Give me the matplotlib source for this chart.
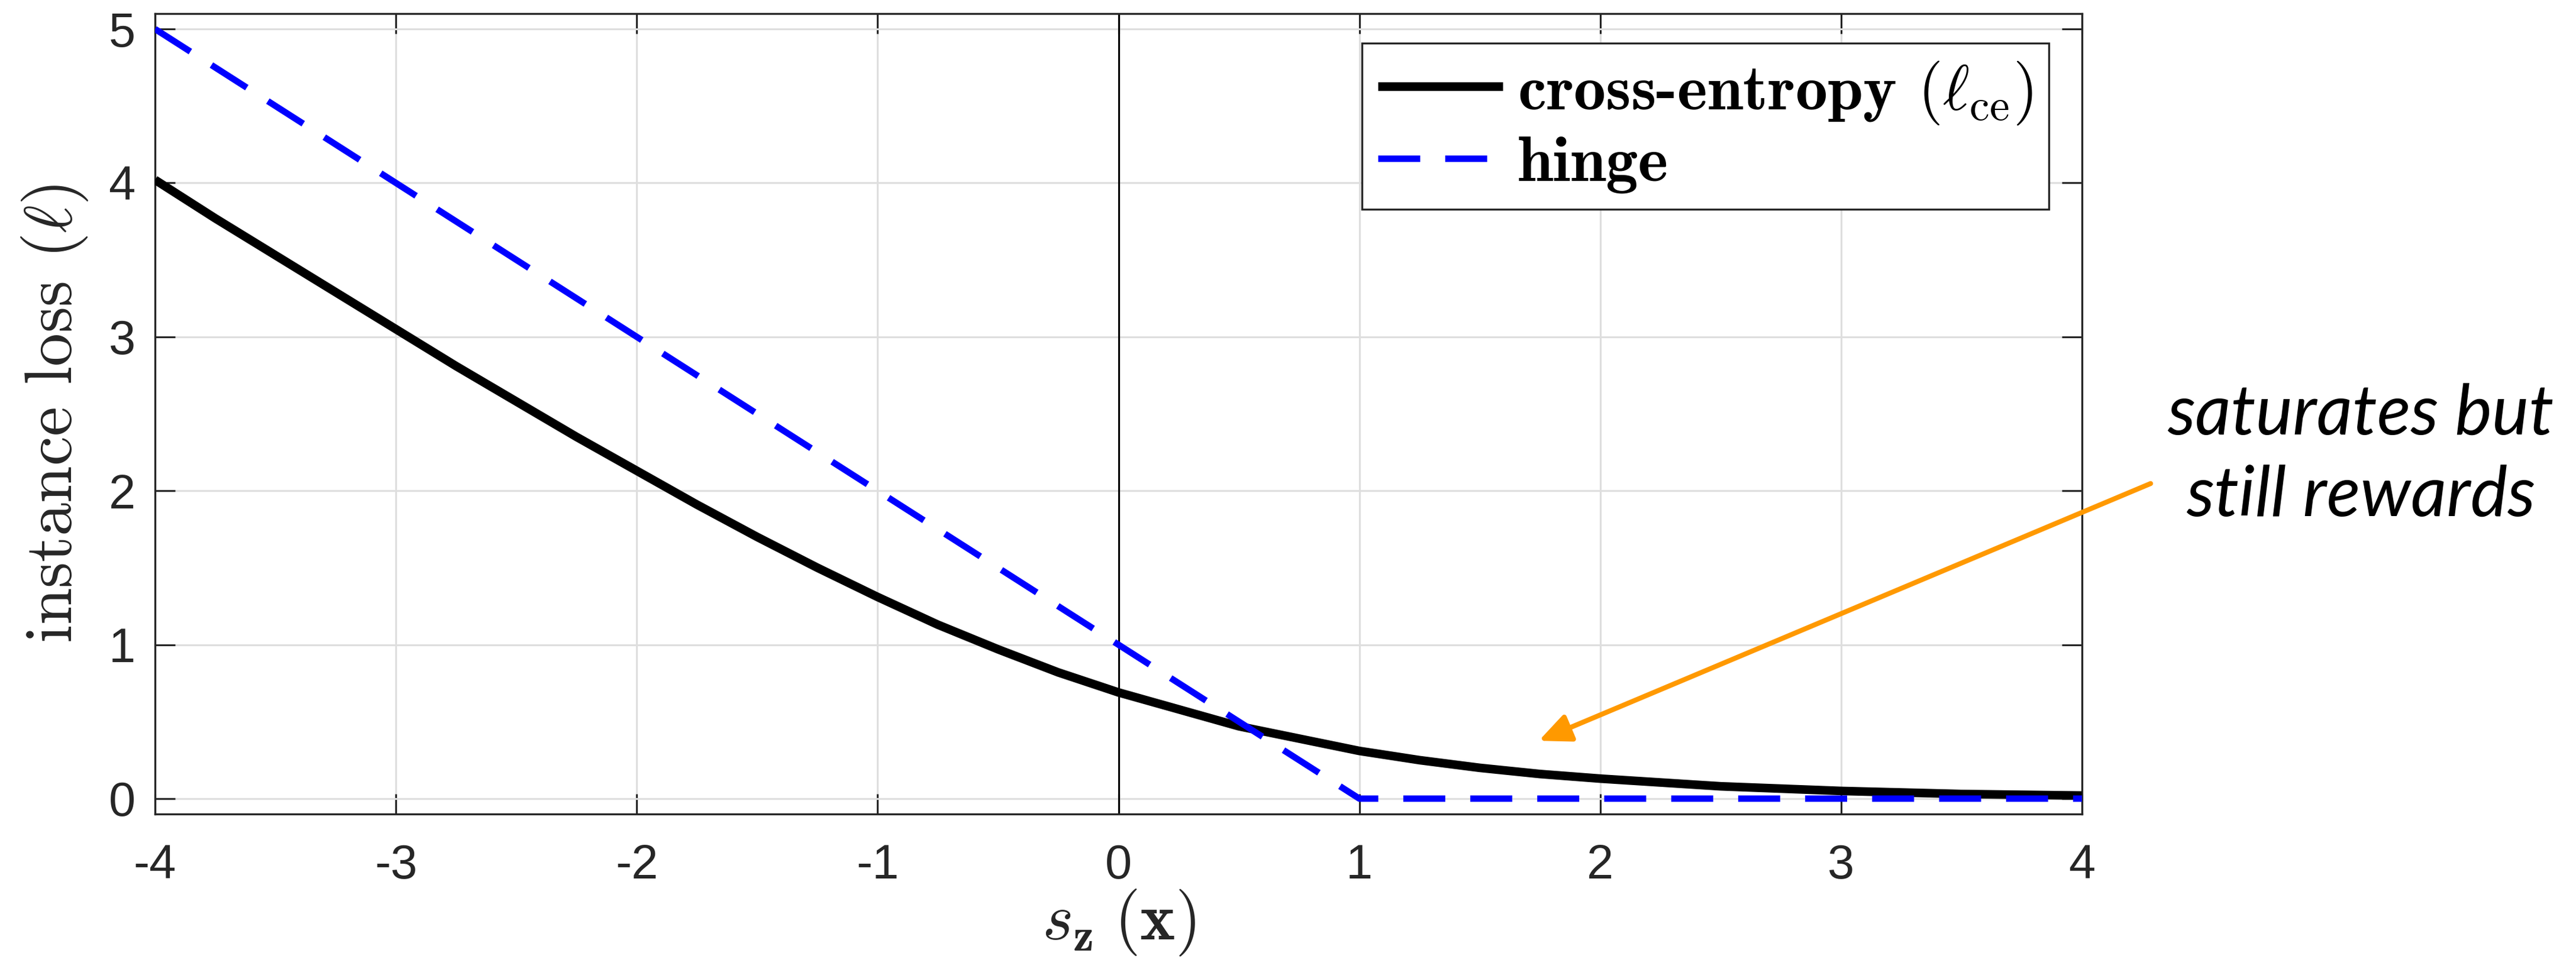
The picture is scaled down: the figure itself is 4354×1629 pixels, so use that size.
import matplotlib
matplotlib.use('Agg')
import matplotlib.pyplot as plt
from matplotlib.ticker import FixedLocator, FixedFormatter

# ---------------- data ----------------
score_x = [-4, -3.75, -3.5, -3.25, -3, -2.75, -2.5, -2.25, -2, -1.75, -1.5, -1.25,
           -1, -0.75, -0.5, -0.25, 0, 0.25, 0.5, 0.75, 1, 1.25, 1.5, 1.75, 2,
           2.5, 3, 3.5, 4]
ce_loss = [4.02, 3.77, 3.53, 3.29, 3.05, 2.81, 2.58, 2.35, 2.13, 1.91, 1.70, 1.50,
           1.31, 1.13, 0.97, 0.82, 0.69, 0.58, 0.47, 0.39, 0.31, 0.25, 0.20, 0.16, 0.13,
           0.08, 0.05, 0.03, 0.02]
hinge_x = [-4, 1, 4]
hinge_loss = [5, 0, 0]

x_ticks = [-4, -3, -2, -1, 0, 1, 2, 3, 4]
x_tick_labels = ['-4', '-3', '-2', '-1', '0', '1', '2', '3', '4']
y_ticks = [0, 1, 2, 3, 4, 5]
y_tick_labels = ['0', '1', '2', '3', '4', '5']
series_labels = [r'cross-entropy $(\ell_{\mathrm{ce}})$', 'hinge']
x_label = r'$s_{\mathbf{z}}\;(\mathbf{x})$'
y_label = r'instance loss $(\ell)$'
annotation_lines = ['saturates but', 'still rewards']
arrow_tip = (1.745, 0.376)
arrow_tail = (4.285, 2.047)
zero_line_x = 0

# ---------------- figure ----------------
plt.rcParams['mathtext.fontset'] = 'cm'
W, H, DPI = 4354, 1629, 300
fig = plt.figure(figsize=(W / DPI, H / DPI), dpi=DPI)
ax = fig.add_axes([262 / W, 1 - 1377 / H, (3519 - 262) / W, (1377 - 23) / H])

spine_col = '#262626'
ax.grid(True, color='#dedede', linewidth=0.75, zorder=0)
ax.set_axisbelow(True)
ax.axvline(zero_line_x, color='black', linewidth=0.75, zorder=2)

ax.plot(score_x, ce_loss, color='black', linewidth=3.5, solid_capstyle='butt',
        solid_joinstyle='round', label=series_labels[0], zorder=3)
ax.plot(hinge_x, hinge_loss, color='#0000ff', linewidth=2.6, dashes=(6.55, 3.9),
        dash_capstyle='butt', label=series_labels[1], zorder=4)

ax.set_xlim(-4, 4)
ax.set_ylim(-0.1, 5.1)
ax.xaxis.set_major_locator(FixedLocator(x_ticks))
ax.xaxis.set_major_formatter(FixedFormatter(x_tick_labels))
ax.yaxis.set_major_locator(FixedLocator(y_ticks))
ax.yaxis.set_major_formatter(FixedFormatter(y_tick_labels))
ax.tick_params(axis='both', direction='in', length=8.2, width=0.75, color=spine_col,
               top=True, right=True, labelsize=19.5, labelcolor='#262626')
ax.tick_params(axis='x', pad=12)
ax.tick_params(axis='y', pad=8)
for lab in ax.get_xticklabels() + ax.get_yticklabels():
    lab.set_family('Liberation Sans')
for sp in ax.spines.values():
    sp.set_color(spine_col)
    sp.set_linewidth(0.8)

ax.set_xlabel(x_label, fontsize=27, color='#262626')
ax.xaxis.set_label_coords(0.5, -0.136)
ax.xaxis.label.set_verticalalignment('center')
ax.set_ylabel(y_label, fontsize=27, family='cmr10', color='#262626')
ax.yaxis.set_label_coords(-0.052, 0.5)
ax.yaxis.label.set_verticalalignment('center')

leg = ax.legend(loc='upper right', bbox_to_anchor=((3463 - 262) / (3519 - 262), (1377 - 73) / (1377 - 23)),
                borderaxespad=0, prop={'family': 'cmb10', 'size': 26}, frameon=True,
                fancybox=False, edgecolor=spine_col, framealpha=1,
                handlelength=1.94, handletextpad=0.23, borderpad=0.25, labelspacing=0.15)
leg.get_frame().set_linewidth(0.8)

ax.annotate('', xy=arrow_tip, xytext=arrow_tail, xycoords='data', textcoords='data',
            annotation_clip=False,
            arrowprops=dict(arrowstyle='-|>,head_length=0.4,head_width=0.18', mutation_scale=27,
                            color='#ff9900', lw=2.0, shrinkA=0, shrinkB=0))

fig.text(3990 / W, 1 - 735 / H, annotation_lines[0], ha='center', va='baseline',
         family='Lato', style='italic', fontsize=28.4, color='black')
fig.text(3990 / W, 1 - 873 / H, annotation_lines[1], ha='center', va='baseline',
         family='Lato', style='italic', fontsize=28.4, color='black')

fig.savefig('out.png', dpi=DPI)
